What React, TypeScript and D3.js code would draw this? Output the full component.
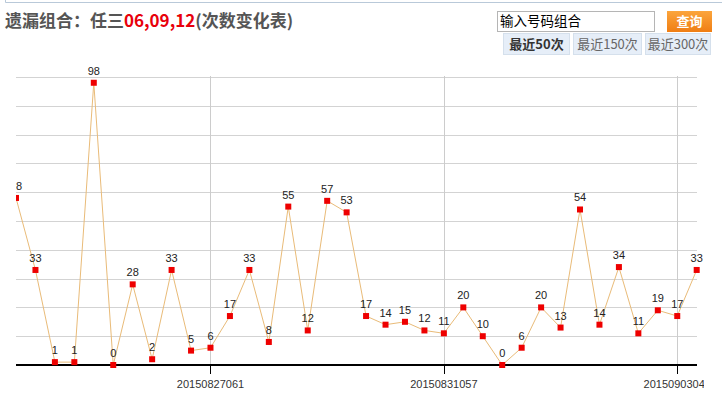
import React from "react";
import * as d3 from "d3";

const values = [58, 33, 1, 1, 98, 0, 28, 2, 33, 5, 6, 17, 33, 8, 55, 12, 57, 53, 17, 14, 15, 12, 11, 20, 10, 0, 6, 20, 13, 54, 14, 34, 11, 19, 17, 33];
const tickIndices = [10, 22, 34];
const tickLabels = ["20150827061", "20150831057", "20150903049"];
const yTicks = [0, 10, 20, 30, 40, 50, 60, 70, 80, 90, 100];
const tabLabels = ["最近50次", "最近150次", "最近300次"];

const W = 722;
const H = 406;
const left = 16;
const right = 697;
const top = 77;
const bottom = 365;

export default function App() {
  const x = d3.scaleLinear().domain([0, values.length - 1]).range([left, 696.7]);
  const y = d3.scaleLinear().domain([0, 100]).range([bottom, top]);
  const line = d3
    .line<number>()
    .x((_, i) => x(i))
    .y((d) => y(d));

  const tabX = [503, 573, 645];
  const tabW = [66, 68, 65];

  return (
    <svg
      width={W}
      height={H}
      style={{ position: "absolute", left: 0, top: 0, background: "#fff" }}
      fontFamily="Arial, 'Liberation Sans', sans-serif"
    >
      <defs>
        <clipPath id="plotClip">
          <rect x={left} y={0} width={704 - left} height={H} />
        </clipPath>
        <linearGradient id="btnGrad" x1="0" y1="0" x2="0" y2="1">
          <stop offset="0" stopColor="#fba53c" />
          <stop offset="1" stopColor="#f07e14" />
        </linearGradient>
      </defs>

      {/* top box border */}
      <path d="M5.5,0 V2.5 H722" fill="none" stroke="#b9c9d9" strokeWidth={1} />

      {/* title */}
      <text x={5} y={27} fontSize={17} fontWeight="bold" fontFamily="'Noto Sans CJK SC', sans-serif" fill="#555">
        <tspan>遗漏组合：任三</tspan>
        <tspan fill="#e8000b">06,09,12</tspan>
        <tspan>(次数变化表)</tspan>
      </text>

      {/* input */}
      <rect x={497.5} y={11.5} width={157} height={20} fill="#fff" stroke="#b5b5b5" />
      <text x={500} y={26} fontSize={13.5} fill="#000" fontFamily="'Noto Sans CJK SC', sans-serif">
        输入号码组合
      </text>
      <rect x={667} y={11} width={45} height={21} fill="url(#btnGrad)" />
      <text x={689.5} y={26} fontSize={13} fontWeight="bold" textAnchor="middle" fill="#fff" fontFamily="'Noto Sans CJK SC', sans-serif">
        查询
      </text>

      {/* tabs */}
      {tabLabels.map((t, i) => (
        <g key={t}>
          <rect x={tabX[i] + 0.5} y={33.5} width={tabW[i]} height={21} fill="#e6eef8" stroke="#d5e0ec" />
          <text
            x={tabX[i] + tabW[i] / 2 + 0.5}
            y={49}
            fontSize={13}
            textAnchor="middle"
            fontWeight={i === 0 ? "bold" : "normal"}
            fill={i === 0 ? "#333" : "#666"}
            fontFamily="'Noto Sans CJK SC', sans-serif"
          >
            {t}
          </text>
        </g>
      ))}

      {/* horizontal grid */}
      {yTicks.slice(1).map((t) => (
        <line key={t} x1={left} x2={right} y1={Math.round(y(t)) + 0.5} y2={Math.round(y(t)) + 0.5} stroke="#d3d3d3" />
      ))}

      {/* vertical grid + ticks */}
      {tickIndices.map((ti) => (
        <g key={ti}>
          <line x1={Math.round(x(ti)) + 0.5} x2={Math.round(x(ti)) + 0.5} y1={76} y2={bottom} stroke="#cccccc" />
          <line x1={Math.round(x(ti)) + 0.5} x2={Math.round(x(ti)) + 0.5} y1={bottom} y2={374} stroke="#000" />
        </g>
      ))}

      {/* baseline */}
      <line x1={left} x2={right} y1={bottom} y2={bottom} stroke="#000" strokeWidth={2} />

      <g clipPath="url(#plotClip)">
        {tickIndices.map((ti, i) => (
          <text key={ti} x={x(ti)} y={388} fontSize={11} textAnchor="middle" fill="#333">
            {tickLabels[i]}
          </text>
        ))}
        <path d={line(values) || ""} fill="none" stroke="#e9bb78" strokeWidth={1} />
        {values.map((v, i) => (
          <rect key={i} x={x(i) - 3} y={y(v) - 3} width={6} height={6} fill="#ee0000" />
        ))}
        {values.map((v, i) => (
          <text key={"l" + i} x={x(i)} y={y(v) - 8} fontSize={11} textAnchor="middle" fill="#222">
            {v}
          </text>
        ))}
      </g>
    </svg>
  );
}
